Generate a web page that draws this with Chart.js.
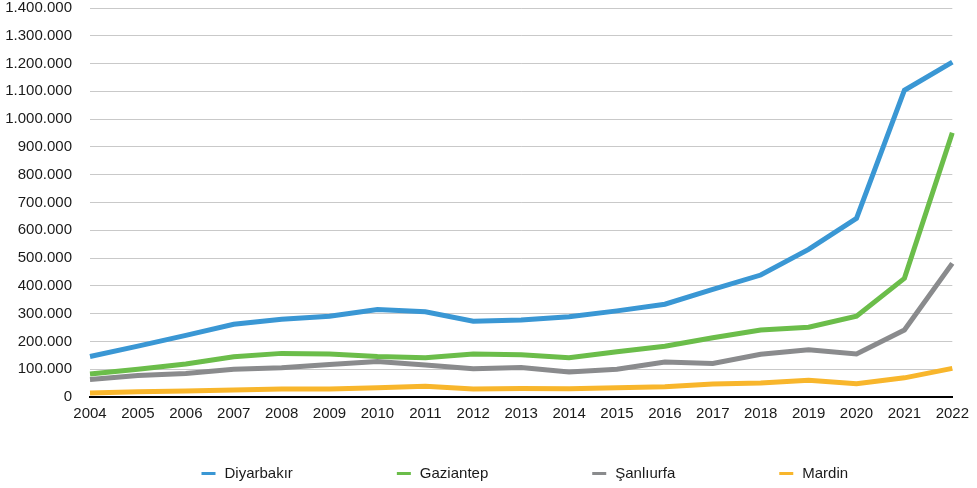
<!DOCTYPE html>
<html>
<head>
<meta charset="utf-8">
<script src="https://cdn.jsdelivr.net/npm/chart.js@4.4.1/dist/chart.umd.min.js"></script>
<style>
  html, body { margin: 0; padding: 0; background: #ffffff; }
  #wrap { width: 977px; height: 488px; position: relative; }
</style>
</head>
<body>
<div id="wrap"><canvas id="c" width="977" height="488"></canvas></div>
<script>
const years = ['2004','2005','2006','2007','2008','2009','2010','2011','2012','2013','2014','2015','2016','2017','2018','2019','2020','2021','2022'];
const seriesNames = ['Diyarbakır', 'Gaziantep', 'Şanlıurfa', 'Mardin'];
const diyarbakir = [146000, 183000, 222000, 262000, 280000, 291000, 315000, 307000, 273000, 277000, 289000, 310000, 334000, 387000, 439000, 531000, 643000, 1104000, 1205000];
const gaziantep  = [83000, 100000, 119000, 145000, 157000, 155000, 146000, 141000, 155000, 152000, 141000, 163000, 183000, 213000, 241000, 251000, 291000, 427000, 951000];
const sanliurfa  = [63000, 77000, 85000, 100000, 105000, 117000, 128000, 115000, 102000, 106000, 90000, 100000, 126000, 121000, 154000, 170000, 155000, 241000, 481000];
const mardin     = [14000, 19000, 22000, 25000, 29000, 29000, 33000, 39000, 29000, 31000, 30000, 33000, 37000, 47000, 50000, 60000, 48000, 69000, 103000];
const yMax = 1400000;
const yStep = 100000;

const colors = ['#3a97d4', '#6bbd4a', '#8a8b8d', '#f8b62c'];
const FONT = '"Liberation Sans", Arial, Helvetica, sans-serif';

function fmt(v) {
  return String(v).replace(/\B(?=(\d{3})+(?!\d))/g, '.');
}

const customLegend = {
  id: 'customLegend',
  afterDraw(chart) {
    const ctx = chart.ctx;
    const ds = chart.data.datasets;
    ctx.save();
    ctx.font = '15px ' + FONT;
    const lineW = 14, gapText = 9, gapItem = 104;
    const widths = ds.map(d => lineW + gapText + ctx.measureText(d.label).width);
    let x = 201.5;
    const y = 473.5;
    ds.forEach((d, i) => {
      ctx.fillStyle = d.borderColor;
      ctx.fillRect(x, y - 1.5, lineW, 3);
      ctx.fillStyle = '#1a1a1a';
      ctx.textBaseline = 'middle';
      ctx.textAlign = 'left';
      ctx.fillText(d.label, x + lineW + gapText, y + 0.5);
      x += widths[i] + gapItem;
    });
    ctx.restore();
  }
};

const dataSeries = [diyarbakir, gaziantep, sanliurfa, mardin];

new Chart(document.getElementById('c'), {
  type: 'line',
  data: {
    labels: years,
    datasets: dataSeries.map((vals, i) => ({
      label: seriesNames[i],
      data: vals,
      borderColor: colors[i],
      backgroundColor: colors[i],
      borderWidth: 5,
      pointRadius: 0,
      pointHoverRadius: 0,
      tension: 0,
      fill: false
    }))
  },
  options: {
    responsive: false,
    animation: false,
    devicePixelRatio: 1,
    layout: { padding: { left: 5, right: 23, top: 0, bottom: 65 } },
    plugins: {
      legend: { display: false },
      tooltip: { enabled: false }
    },
    scales: {
      x: {
        offset: false,
        afterFit(scale) { scale.height = 26; },
        grid: { display: false, drawTicks: false },
        border: { display: true, color: '#000000', width: 2 },
        ticks: { color: '#1a1a1a', font: { family: FONT, size: 15 }, padding: 8, maxRotation: 0, autoSkip: false }
      },
      y: {
        min: 0,
        max: yMax,
        afterFit(scale) { scale.width = 85; scale.paddingTop = 8; scale.paddingBottom = 0; },
        grid: { color: '#c9c9c9', lineWidth: 1, drawTicks: false },
        border: { display: false },
        ticks: { stepSize: yStep, color: '#1a1a1a', font: { family: FONT, size: 15 }, padding: 18, callback: v => fmt(v) }
      }
    }
  },
  plugins: [customLegend]
});
</script>
</body>
</html>
